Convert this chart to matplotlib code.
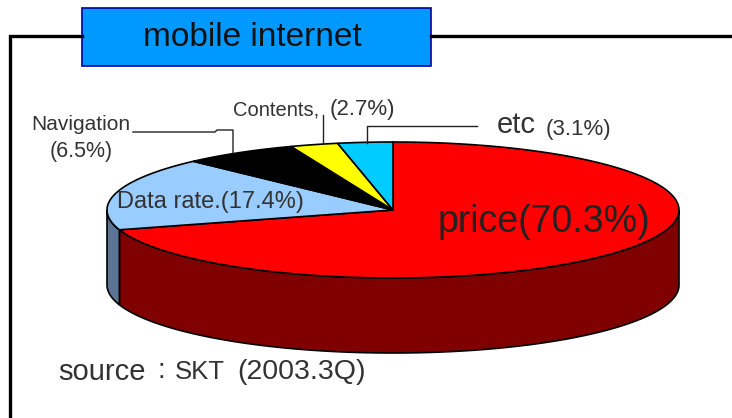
import numpy as np
import matplotlib
matplotlib.use("Agg")
import matplotlib.pyplot as plt

plt.rcParams['font.family'] = ['Liberation Sans', 'DejaVu Sans']

# shares, clockwise from 12 o'clock
categories = ["price", "Data rate", "Navigation", "Contents", "etc"]
shares = [70.3, 17.4, 6.5, 2.7, 3.1]
top_colors = ["#ff0000", "#99ccff", "#000000", "#ffff00", "#00ccff"]
side_colors = ["#800000", "#5b7394", "#000000", "#808000", "#007a99"]

# pie geometry in pixels
cx, cy = 393, 210
rx, ry = 286, 68
depth = 75

fig = plt.figure(figsize=(7.32, 4.18), dpi=100)
ax = fig.add_axes([0, 0, 1, 1])
ax.set_xlim(0, 732)
ax.set_ylim(418, 0)
ax.axis("off")


def arc(a0, a1):
    t = np.radians(np.linspace(a0, a1, 200))
    return cx + rx * np.cos(t), cy - ry * np.sin(t)


# frame and title box
ax.plot([82, 10, 10], [36, 36, 418], color="black", lw=2.4, solid_joinstyle="miter")
ax.plot([431, 732], [36, 36], color="black", lw=2.4)
ax.fill([82, 431, 431, 82], [8, 8, 66, 66], facecolor="#0099ff", edgecolor="#000099", lw=1.2)
ax.text(252, 37, "mobile internet", fontsize=24, ha="center", va="center", color="#111111")

# wedge angles
angles = 90 - np.cumsum([0] + shares) * 3.6

# side wall: price runs to the left edge, the rest of the wall is data rate
x, y = arc(0, angles[1])
ax.fill(np.r_[x, x[::-1]], np.r_[y, y[::-1] + depth], facecolor=side_colors[0],
        edgecolor="black", lw=1.2, zorder=2)
x, y = arc(angles[1], -180)
ax.fill(np.r_[x, x[::-1]], np.r_[y, y[::-1] + depth], facecolor=side_colors[1],
        edgecolor="black", lw=1.2, zorder=2)

# top faces
for i in range(len(shares)):
    x, y = arc(angles[i], angles[i + 1])
    ax.fill(np.r_[cx, x], np.r_[cy, y], facecolor=top_colors[i], edgecolor="black", lw=1.2, zorder=3)

# leader lines
ax.plot([133, 215, 217, 233, 233], [132, 132, 130, 130, 153], color="#222222", lw=1, zorder=4)
ax.plot([323, 323], [115, 143], color="#222222", lw=1, zorder=4)
ax.plot([367, 367, 477], [143, 126, 126], color="#222222", lw=1, zorder=4)

# labels
tc = "#333333"
ax.text(81, 125, "Navigation", fontsize=15, ha="center", va="center", color=tc, zorder=5)
ax.text(81, 151, "(6.5%)", fontsize=15.5, ha="center", va="center", color=tc, zorder=5)
ax.text(233, 110, "Contents,", fontsize=14.5, ha="left", va="center", color=tc, zorder=5)
ax.text(330, 110, "(2.7%)", fontsize=16, ha="left", va="center", color=tc, zorder=5)
ax.text(497, 125, "etc", fontsize=21, ha="left", va="center", color=tc, zorder=5)
ax.text(546, 130, "(3.1%)", fontsize=16, ha="left", va="center", color=tc, zorder=5)
ax.text(117, 202, "Data rate.(17.4%)", fontsize=17, ha="left", va="center", color=tc, zorder=5)
ax.text(438, 222, "price(70.3%)", fontsize=27, ha="left", va="center", color="#222222", zorder=5)
ax.text(58, 372, "source", fontsize=21, ha="left", va="center", color=tc, zorder=5)
ax.text(157, 371, ":", fontsize=20, ha="left", va="center", color=tc, zorder=5)
ax.text(175, 372, "SKT", fontsize=18.5, ha="left", va="center", color=tc, zorder=5)
ax.text(237, 372, "(2003.3Q)", fontsize=20.5, ha="left", va="center", color=tc, zorder=5)

fig.savefig("out.png", dpi=100)
